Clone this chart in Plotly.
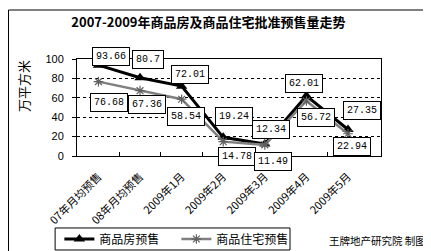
import plotly.graph_objects as go

categories = ["07年月均预售", "08年月均预售", "2009年1月", "2009年2月", "2009年3月", "2009年4月", "2009年5月"]
house_presale = [93.66, 80.7, 72.01, 19.24, 12.34, 62.01, 27.35]
resid_presale = [76.68, 67.36, 58.54, 14.78, 11.49, 56.72, 22.94]
y_ticks = [0, 20, 40, 60, 80, 100]

house_shift = [(13, 9), (8, 18), (8, 12), (11, 21), (6, 15), (-2, 12), (14, 19)]
resid_shift = [(11, -21), (7, -14), (4, -17), (14, -15), (8, -17), (10, -17), (4, -13)]

CJK = "Noto Sans CJK SC"
MONO = "Liberation Mono"

fig = go.Figure()
fig.add_trace(go.Scatter(
    x=categories, y=house_presale, name="商品房预售", mode="lines+markers",
    line=dict(color="black", width=3),
    marker=dict(symbol="triangle-up", size=10, color="black"),
))
fig.add_trace(go.Scatter(
    x=categories, y=resid_presale, name="商品住宅预售", mode="lines+markers",
    line=dict(color="#808080", width=2.5),
    marker=dict(symbol="asterisk-open", size=8, color="#606060", line=dict(width=1.2, color="#505050")),
))

annotations = []
for series, shifts in ((house_presale, house_shift), (resid_presale, resid_shift)):
    for c, v, (dx, dy) in zip(categories, series, shifts):
        annotations.append(dict(
            x=c, y=v, xref="x", yref="y", text=str(v), showarrow=False,
            xshift=dx, yshift=dy, bgcolor="white", bordercolor="black",
            borderwidth=1, borderpad=3, font=dict(family=MONO, size=10, color="black"),
        ))

annotations.append(dict(
    x=-0.178, y=0.72, xref="paper", yref="paper", text="万平方米", textangle=-90,
    xanchor="center", yanchor="middle",
    showarrow=False, font=dict(family=CJK, size=13, color="black"),
))
annotations.append(dict(
    x=0.99, y=-0.876, xref="paper", yref="paper", text="王牌地产研究院 制图",
    xanchor="center", yanchor="middle",
    showarrow=False, font=dict(family=CJK, size=10.5, color="black"),
))

fig.update_layout(
    width=431, height=251,
    margin=dict(l=69, r=58, t=51, b=103, autoexpand=False),
    paper_bgcolor="white", plot_bgcolor="white",
    title=dict(text="<b>2007-2009年商品房及商品住宅批准预售量走势</b>", x=0.465, y=0.944,
               xanchor="center", yanchor="middle",
               font=dict(family=CJK, size=13, color="black")),
    showlegend=True,
    legend=dict(orientation="h", x=-0.058, y=-0.856, xanchor="left", yanchor="middle",
                borderwidth=0, bgcolor="rgba(0,0,0,0)",
                font=dict(family=CJK, size=12, color="black"),
                entrywidth=72, tracegroupgap=0),
    annotations=annotations,
    shapes=[
        dict(type="rect", xref="paper", yref="paper", x0=-0.2253, x1=1.25, y0=-1.2, y1=1.505,
             line=dict(color="black", width=1), layer="below"),
        dict(type="rect", xref="paper", yref="paper", x0=-0.072, x1=0.7007, y0=-0.969, y1=-0.742,
             line=dict(color="black", width=1), fillcolor="white", layer="below"),
    ],
)
fig.update_xaxes(
    type="category", showline=True, linecolor="black", linewidth=1, mirror=True,
    ticks="inside", ticklen=4, tickcolor="black", tickson="boundaries",
    tickangle=-45, showgrid=False, automargin=False, ticklabelstandoff=9,
    tickfont=dict(family=CJK, size=11, color="black"),
)
fig.update_yaxes(
    range=[0, 100], tickvals=y_ticks, showline=True, linecolor="black", linewidth=1, mirror=True,
    ticks="outside", ticklen=4, tickcolor="black", ticklabelstandoff=6, automargin=False,
    showgrid=True, gridcolor="black", gridwidth=1, griddash="3px,3px", zeroline=False,
    tickfont=dict(family="Liberation Sans", size=11, color="black"),
)
fig.write_html("out.html")
